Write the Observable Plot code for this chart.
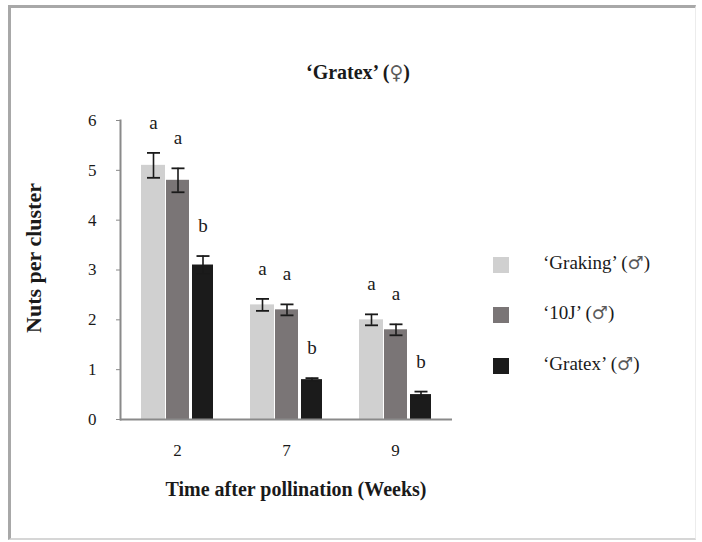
<!DOCTYPE html>
<html>
<head>
<meta charset="utf-8">
<script src="https://cdn.jsdelivr.net/npm/d3@7"></script>
<script src="https://cdn.jsdelivr.net/npm/@observablehq/plot@0.6"></script>
<style>
  html, body { margin: 0; padding: 0; background: #fff; }
  #wrap { position: relative; width: 702px; height: 542px; overflow: hidden; font-family: "Liberation Serif", "Times New Roman", serif; color: #1a1a1a; }
  #frame { position: absolute; left: 8px; top: 5px; width: 684px; height: 530px;
           border-left: 3px solid #a8a8a8; border-top: 3px solid #a8a8a8;
           border-bottom: 2px solid #d6d6d6; border-right: 1px solid #ececec; }
  #chart { position: absolute; left: 0; top: 0; }
  .title { position: absolute; font-weight: bold; font-size: 20px; white-space: nowrap; transform: translate(-50%, -50%); }
  .ytitle { position: absolute; font-weight: bold; font-size: 22px; white-space: nowrap; transform: translate(-50%, -50%) rotate(-90deg); }
  .sym { font-family: "DejaVu Sans", sans-serif; font-weight: normal; font-size: 0.95em; color: #5a5a5a; }
  .leg { position: absolute; left: 493px; font-size: 19px; white-space: nowrap; }
  .leg .sw { position: absolute; left: 0; top: 0; width: 16px; height: 16px; }
  .leg .lb { position: absolute; left: 50px; top: -5px; }
</style>
</head>
<body>
<div id="wrap">
  <div id="frame"></div>
  <div id="chart"></div>
</div>
<script>
// ---- data ----
const weeks = ["2", "7", "9"];
const seriesNames = ["‘Graking’", "‘10J’", "‘Gratex’"];
const maleSign = "♂";
const femaleSign = "♀";
const series = seriesNames.map(n => `${n} (${maleSign})`);
const colors = ["#d0d0d0", "#7a7576", "#1b1b1b"];
const grakingMean = [5.1, 2.3, 2.0];
const grakingErr  = [0.25, 0.12, 0.11];
const tenJMean    = [4.8, 2.2, 1.8];
const tenJErr     = [0.24, 0.11, 0.11];
const gratexMean  = [3.1, 0.8, 0.5];
const gratexErr   = [0.18, 0.03, 0.06];
const grakingLetters = ["a", "a", "a"];
const tenJLetters    = ["a", "a", "a"];
const gratexLetters  = ["b", "b", "b"];
const yTicks = [0, 1, 2, 3, 4, 5, 6];
const titleName = "‘Gratex’";
const xTitle = "Time after pollination (Weeks)";
const yTitle = "Nuts per cluster";

const means = [grakingMean, tenJMean, gratexMean];
const errs = [grakingErr, tenJErr, gratexErr];
const letters = [grakingLetters, tenJLetters, gratexLetters];

// ---- styling (pixel offsets within a group band) ----
const insets = [[0, 48], [25, 24], [51, 0]];
const centerDx = [-24, 0.5, 25.5];
const axisGrey = "#8a8a8a";

const cap = { draw(ctx) { ctx.moveTo(-6.5, 0); ctx.lineTo(6.5, 0); } };

const marks = [];
series.forEach((s, i) => {
  const rows = weeks.map((w, j) => ({ week: w, series: s, mean: means[i][j], err: errs[i][j], letter: letters[i][j] }));
  marks.push(Plot.barY(rows, { x: "week", y: "mean", fill: "series", insetLeft: insets[i][0], insetRight: insets[i][1] }));
  marks.push(Plot.ruleX(rows, { x: "week", y1: d => d.mean - d.err, y2: d => d.mean + d.err, dx: centerDx[i], stroke: "#1a1a1a", strokeWidth: 1.6 }));
  marks.push(Plot.dot(rows, { x: "week", y: d => d.mean + d.err, dx: centerDx[i], symbol: cap, fill: "none", stroke: "#1a1a1a", strokeWidth: 1.8 }));
  marks.push(Plot.dot(rows, { x: "week", y: d => d.mean - d.err, dx: centerDx[i], symbol: cap, fill: "none", stroke: "#1a1a1a", strokeWidth: 1.8 }));
  marks.push(Plot.text(rows, { x: "week", y: d => d.mean + d.err, text: "letter", dx: centerDx[i], dy: -30, fontSize: 19, fill: "#1a1a1a" }));
});

const hasAxisMarks = typeof Plot.axisY === "function";
if (hasAxisMarks) {
  marks.push(Plot.frame({ anchor: "left", stroke: axisGrey, strokeWidth: 2 }));
}
marks.push(Plot.ruleY([0], { stroke: axisGrey, strokeWidth: 2 }));

const plot = Plot.plot({
  width: 702,
  height: 542,
  marginLeft: 120,
  marginRight: 250,
  marginTop: 120,
  marginBottom: 123,
  style: { fontFamily: "'Liberation Serif', 'Times New Roman', serif", fontSize: "17px", color: "#1a1a1a", background: "transparent", overflow: "visible" },
  x: { domain: weeks, paddingInner: 0.335, paddingOuter: 0.185, tickSize: 0, tickPadding: 24, label: null },
  y: { domain: [0, 6], ticks: yTicks, tickFormat: d3.format("d"), tickSize: 4, tickPadding: 20, label: null, line: !hasAxisMarks },
  color: { domain: series, range: colors },
  marks
});
document.getElementById("chart").appendChild(plot);

// grey y-axis ticks/line
d3.select(plot).selectAll("[aria-label^='y-axis'] path, [aria-label^='y-axis'] line, [aria-label='y-axis tick'] path")
  .attr("stroke", axisGrey);

// ---- text & legend (HTML) ----
const wrap = document.getElementById("wrap");
function addText(cls, html, x, y) {
  const el = document.createElement("div");
  el.className = cls; el.innerHTML = html;
  el.style.left = x + "px"; el.style.top = y + "px";
  wrap.appendChild(el);
  return el;
}
addText("title", `${titleName} (<span class="sym">${femaleSign}</span>)`, 358, 72);
addText("title", xTitle, 296, 489);
addText("ytitle", yTitle, 34, 258);

const legTops = [257, 307, 358];
seriesNames.forEach((n, i) => {
  const g = document.createElement("div");
  g.className = "leg"; g.style.top = legTops[i] + "px";
  const sw = document.createElement("div"); sw.className = "sw"; sw.style.background = colors[i];
  const lb = document.createElement("div"); lb.className = "lb";
  lb.innerHTML = `${n} (<span class="sym">${maleSign}</span>)`;
  g.appendChild(sw); g.appendChild(lb); wrap.appendChild(g);
});
</script>
</body>
</html>
